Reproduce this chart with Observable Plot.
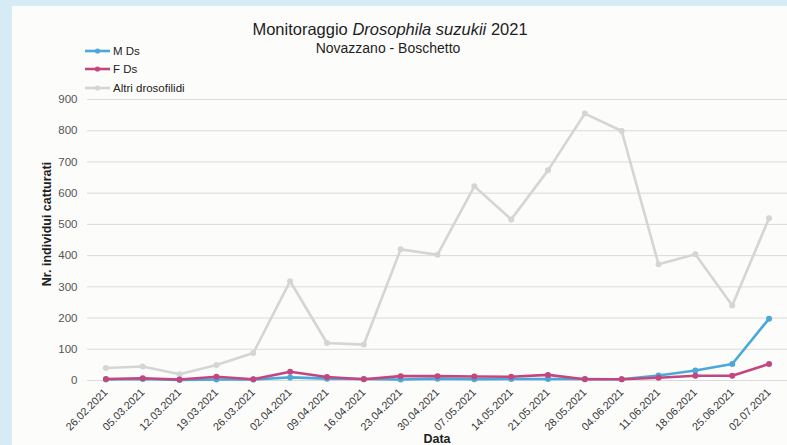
<!DOCTYPE html>
<html><head><meta charset="utf-8">
<script src="https://cdn.jsdelivr.net/npm/d3@7"></script>
<script src="https://cdn.jsdelivr.net/npm/@observablehq/plot@0.6"></script>
<style>
body{margin:0;background:#d7ebf4;font-family:"Liberation Sans",Arial,sans-serif;}
#wrap{position:relative;width:787px;height:445px;overflow:hidden}
#paper{position:absolute;left:12px;top:6px;right:0;bottom:0;background:#fcfcfb}
#chart{position:absolute;left:0;top:0}
.t{position:absolute;white-space:nowrap;color:#1e1e1e;line-height:1}
#title{left:0;width:780px;top:21px;text-align:center;font-size:16.5px}
#sub{left:0;width:776px;top:41px;text-align:center;font-size:14px}
#ylab{left:47px;top:224px;font-size:12.5px;font-weight:bold;transform:translate(-50%,-50%) rotate(-90deg)}
#xlab{left:437px;top:433px;font-size:12.5px;font-weight:bold;transform:translateX(-50%)}
#legend{position:absolute;left:84px;top:42px;font-size:11.5px;color:#222}
.li{display:flex;align-items:center;height:18.3px}
.li svg{margin-right:2px}
</style></head>
<body>
<div id="wrap">
<div id="paper"></div>
<div id="chart"></div>
<div class="t" id="title">Monitoraggio <i>Drosophila suzukii</i> 2021</div>
<div class="t" id="sub">Novazzano - Boschetto</div>
<div class="t" id="ylab">Nr. individui catturati</div>
<div class="t" id="xlab">Data</div>
<div id="legend"></div>
</div>
<script>
const dates = ["26.02.2021","05.03.2021","12.03.2021","19.03.2021","26.03.2021","02.04.2021","09.04.2021","16.04.2021","23.04.2021","30.04.2021","07.05.2021","14.05.2021","21.05.2021","28.05.2021","04.06.2021","11.06.2021","18.06.2021","25.06.2021","02.07.2021"];
const mDs   = [3,5,2,3,3,10,6,5,3,6,4,5,5,5,4,16,32,53,198];
const fDs   = [5,7,3,12,4,28,11,4,14,14,13,12,18,4,4,9,15,15,53];
const altri = [40,45,20,50,88,318,120,115,420,403,622,516,673,855,799,372,404,240,520];
const seriesNames = ["M Ds","F Ds","Altri drosofilidi"];
const seriesColors = ["#4aa9d9","#c4467f","#d5d5d5"];
const yTicks = [0,100,200,300,400,500,600,700,800,900];

const table = [];
[[mDs,0],[fDs,1],[altri,2]].forEach(([arr,i]) => arr.forEach((v,j) => table.push({date:dates[j], value:v, series:seriesNames[i]})));
const order = ["Altri drosofilidi","M Ds","F Ds"];

const marks = [
  Plot.gridY(yTicks,{stroke:"#dadada",strokeOpacity:1,strokeWidth:1}),
  Plot.axisY(yTicks,{tickSize:0,tickPadding:10,fill:"#555",fontSize:11.5,label:null}),
  Plot.axisX({tickRotate:-45,tickSize:0,tickPadding:10,fill:"#333",fontSize:10.8,label:null})
];
order.forEach(s => {
  const d = table.filter(r => r.series === s);
  const c = seriesColors[seriesNames.indexOf(s)];
  marks.push(Plot.line(d,{x:"date",y:"value",stroke:c,strokeWidth:2.6}));
  marks.push(Plot.dot(d,{x:"date",y:"value",fill:c,r:3}));
});

const chart = Plot.plot({
  width:787,height:445,marginLeft:87,marginRight:0,marginTop:99,marginBottom:65,
  style:{background:"transparent",fontFamily:"Liberation Sans, Arial, sans-serif"},
  x:{type:"point",domain:dates,padding:0.5,round:false},
  y:{domain:[0,900]},
  marks
});
document.getElementById("chart").appendChild(chart);

const leg = document.getElementById("legend");
seriesNames.forEach((n,i) => {
  const c = seriesColors[i];
  const div = document.createElement("div");
  div.className = "li";
  div.innerHTML = `<svg width="27" height="8"><line x1="1" y1="4" x2="26" y2="4" stroke="${c}" stroke-width="2.6"/><circle cx="13.5" cy="4" r="2.6" fill="${c}"/></svg><span>${n}</span>`;
  leg.appendChild(div);
});
</script>
</body></html>
